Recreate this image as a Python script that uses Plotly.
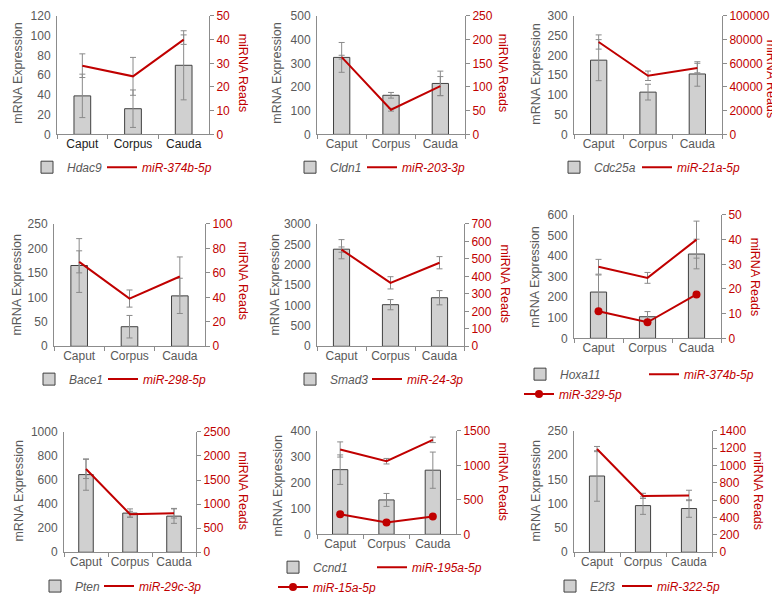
import plotly.graph_objects as go

# ---------------- data ----------------
categories = ["Caput", "Corpus", "Cauda"]

# panel 1
hdac9 = [39, 26, 70]
hdac9_err = [22, 19, 35]
mir_374b_5p_a = [29, 24.5, 40]
mir_374b_5p_a_err = [5, 8, 2]
# panel 2
cldn1 = [325, 165, 215]
cldn1_err = [63, 12, 52]
mir_203_3p = [163, 52, 102]
mir_203_3p_err = [4, 3, 20]
# panel 3
cdc25a = [188, 107, 153]
cdc25a_err = [52, 20, 31]
mir_21a_5p = [78000, 49500, 56000]
mir_21a_5p_err = [6000, 4000, 4000]
# panel 4
bace1 = [165, 40, 103]
bace1_err = [55, 23, 36]
mir_298_5p = [69, 39, 57]
mir_298_5p_err = [9, 7, 16]
# panel 5
smad3 = [2380, 1020, 1190]
smad3_err = [235, 125, 175]
mir_24_3p = [553, 363, 478]
mir_24_3p_err = [15, 35, 35]
# panel 6
hoxa11 = [225, 105, 410]
hoxa11_err = [83, 25, 72]
mir_374b_5p_b = [29, 24.5, 40]
mir_374b_5p_b_err = [3, 2.2, 7.5]
mir_329_5p = [11, 6.5, 17.8]
# panel 7
pten = [645, 325, 300]
pten_err = [130, 35, 60]
mir_29c_3p = [1730, 790, 810]
mir_29c_3p_err = [200, 60, 100]
# panel 8
ccnd1 = [250, 133, 248]
ccnd1_err = [57, 25, 70]
mir_195a_5p = [1230, 1060, 1370]
mir_195a_5p_err = [110, 40, 40]
mir_15a_5p = [290, 170, 260]
# panel 9
e2f3 = [157, 96, 90]
e2f3_err = [52, 18, 18]
mir_322_5p = [1190, 650, 655]
mir_322_5p_err = [30, 30, 60]

# left axis (max, step) and right axis (max, step)
left_axis_max = [120, 500, 300, 250, 3000, 600, 1000, 400, 250]
left_axis_step = [20, 100, 50, 50, 500, 100, 200, 100, 50]
right_axis_max = [50, 250, 100000, 100, 700, 50, 2500, 1500, 1400]
right_axis_step = [10, 50, 20000, 20, 100, 10, 500, 500, 200]

panels = [
    ("Hdac9", hdac9, hdac9_err, [("miR-374b-5p", mir_374b_5p_a, mir_374b_5p_a_err, False)]),
    ("Cldn1", cldn1, cldn1_err, [("miR-203-3p", mir_203_3p, mir_203_3p_err, False)]),
    ("Cdc25a", cdc25a, cdc25a_err, [("miR-21a-5p", mir_21a_5p, mir_21a_5p_err, False)]),
    ("Bace1", bace1, bace1_err, [("miR-298-5p", mir_298_5p, mir_298_5p_err, False)]),
    ("Smad3", smad3, smad3_err, [("miR-24-3p", mir_24_3p, mir_24_3p_err, False)]),
    ("Hoxa11", hoxa11, hoxa11_err, [("miR-374b-5p", mir_374b_5p_b, mir_374b_5p_b_err, False),
                                    ("miR-329-5p", mir_329_5p, None, True)]),
    ("Pten", pten, pten_err, [("miR-29c-3p", mir_29c_3p, mir_29c_3p_err, False)]),
    ("Ccnd1", ccnd1, ccnd1_err, [("miR-195a-5p", mir_195a_5p, mir_195a_5p_err, False),
                                 ("miR-15a-5p", mir_15a_5p, None, True)]),
    ("E2f3", e2f3, e2f3_err, [("miR-322-5p", mir_322_5p, mir_322_5p_err, False)]),
]

# ---------------- layout geometry (pixels) ----------------
W, H = 780, 594
boxes = [(49, 201, 8, 127), (309, 457, 8, 127), (566, 714, 8, 127),
         (46, 197, 217, 340), (309, 456, 217, 340), (566, 713, 208, 332),
         (56, 188, 426, 547), (309, 448, 425, 529), (566, 704, 425, 547)]
left_title_pos = [(10, 66), (269, 66), (528, 67), (9, 279), (267, 279), (527, 271),
                  (11, 486), (270, 481), (528, 486)]
right_title_pos = [(235, 65), (495, 65), (763, 71), (235, 274), (497, 278), (747, 270),
                   (235, 485), (495, 476), (750, 485)]
# one legend per entry, in trace order: (x where the entry text starts, y centre)
legend_entry_pos = [(67, 165), (142, 165), (330, 165), (402, 165), (594, 165), (677, 165),
                    (69, 378), (143, 378), (330, 378), (407, 378),
                    (560, 373), (684, 373), (559, 393),
                    (75, 586), (139, 586), (313, 567), (412, 567), (313, 587),
                    (590, 586), (657, 586)]
LEG_TEXT_OFFSET = 48
LEG_Y_SHIFT = 5

GRAY = "#595959"
RED = "#c00000"
AXIS = "#8c8c8c"
ERR = "#8a8a8a"
FONT = "Liberation Sans, Arial, sans-serif"

fig = go.Figure()
layout = dict(
    width=W, height=H, margin=dict(l=0, r=0, t=0, b=0),
    paper_bgcolor="white", plot_bgcolor="white", template="none",
    font=dict(family=FONT, size=12, color=GRAY),
    showlegend=True, annotations=[],
)

leg_k = 0


def next_legend():
    global leg_k
    leg_k += 1
    name = "legend" if leg_k == 1 else f"legend{leg_k}"
    tx, ty = legend_entry_pos[leg_k - 1]
    layout[name] = dict(
        x=(tx - LEG_TEXT_OFFSET) / W, y=1 - (ty - LEG_Y_SHIFT) / H,
        xanchor="left", yanchor="middle", orientation="h",
        bgcolor="rgba(0,0,0,0)", borderwidth=0, itemclick=False,
        font=dict(size=12, color=GRAY, family=FONT),
    )
    return name


for i, (gene, gvals, gerr, mirs) in enumerate(panels):
    n = i + 1
    x0, x1, yt, yb = boxes[i]
    xa = "x" if n == 1 else f"x{n}"
    ya = "y" if n == 1 else f"y{n}"
    ya2 = f"y{n + 9}"

    fig.add_trace(go.Bar(
        x=categories, y=gvals, width=0.33, xaxis=xa, yaxis=ya,
        name=f"<i>{gene}</i>", legend=next_legend(),
        marker=dict(color="#d0d0d0", line=dict(color="#404040", width=1)),
        error_y=dict(type="data", array=gerr, visible=True, color=ERR, thickness=1, width=3),
    ))
    for (mname, mvals, merr, has_marker) in mirs:
        tr = dict(
            x=categories, y=mvals, xaxis=xa, yaxis=ya2,
            name=f"<i><span style='color:{RED}'>{mname}</span></i>", legend=next_legend(),
            mode="lines+markers" if has_marker else "lines",
            line=dict(color=RED, width=2),
        )
        if has_marker:
            tr["marker"] = dict(color=RED, size=8, symbol="circle")
        if merr is not None:
            tr["error_y"] = dict(type="data", array=merr, visible=True, color=ERR, thickness=1, width=3)
        fig.add_trace(go.Scatter(**tr))

    xdom = [x0 / W, x1 / W]
    ydom = [1 - yb / H, 1 - yt / H]
    xcolor = "#222222" if n == 1 else GRAY
    layout["xaxis" if n == 1 else f"xaxis{n}"] = dict(
        domain=xdom, anchor=ya, type="category", categoryarray=categories,
        range=[-0.5, 2.5], showline=True, linecolor=AXIS, linewidth=1,
        ticks="outside", tickson="boundaries", ticklen=4, tickcolor=AXIS,
        tickangle=0, showgrid=False, zeroline=False, ticklabelstandoff=-2,
        tickfont=dict(size=12, color=xcolor, family=FONT),
    )
    layout["yaxis" if n == 1 else f"yaxis{n}"] = dict(
        domain=ydom, anchor=xa, range=[0, left_axis_max[i]], dtick=left_axis_step[i],
        tick0=0, showline=True, linecolor=AXIS, linewidth=1, ticks="",
        showgrid=False, zeroline=False, tickformat="d", ticklabeloverflow="allow",
        ticklabelstandoff=3,
        tickfont=dict(size=12, color=GRAY, family=FONT),
    )
    layout[f"yaxis{n + 9}"] = dict(
        domain=ydom, anchor=xa, overlaying=ya, side="right",
        range=[0, right_axis_max[i]], dtick=right_axis_step[i], tick0=0,
        showline=True, linecolor=AXIS, linewidth=1, ticks="outside", ticklen=4,
        tickcolor=AXIS, showgrid=False, zeroline=False, tickformat="d",
        ticklabeloverflow="allow",
        tickfont=dict(size=12, color=RED, family=FONT),
    )

    lx, ly = left_title_pos[i]
    rx, ry = right_title_pos[i]
    layout["annotations"].append(dict(
        text="mRNA Expression", x=lx / W, y=1 - ly / H,
        xref="paper", yref="paper",
        showarrow=False, textangle=-90, xanchor="center", yanchor="middle",
        font=dict(size=12.5, color=GRAY, family=FONT)))
    layout["annotations"].append(dict(
        text="miRNA Reads", x=rx / W, y=1 - ry / H,
        xref="paper", yref="paper",
        showarrow=False, textangle=90, xanchor="center", yanchor="middle",
        font=dict(size=12.5, color=RED, family=FONT)))

fig.update_layout(**layout)
fig.write_html("out.html")
